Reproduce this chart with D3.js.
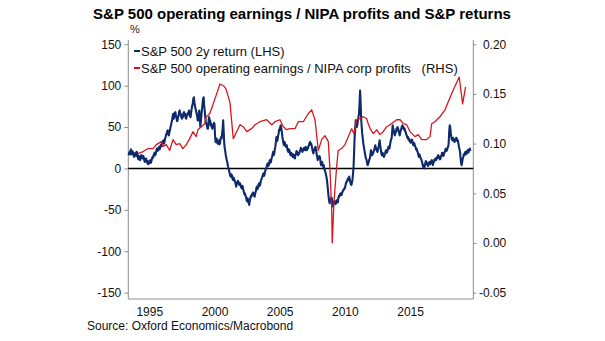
<!DOCTYPE html>
<html>
<head>
<meta charset="utf-8">
<script src="https://cdn.jsdelivr.net/npm/d3@7/dist/d3.min.js"></script>
<style>
  html, body { margin: 0; padding: 0; background: #fff; }
  svg { display: block; font-family: Arial, "Liberation Sans", sans-serif; }
</style>
</head>
<body>
<svg id="chart" width="605" height="341"></svg>
<script>
// S&P 500 2-year return (%), twice a month; each row: [year, first half-month index, values]
const returnRows = [
  [1993, 10, [16,19,20,17,23,20,17,21,19,16,14,18,17,19]],
  [1994, 0, [15,20,18,13,11,15,14,10,12,16,16,13,12,15,13,9,8,11,12,9,7,9,5,7]],
  [1995, 0, [6,9,10,7,9,12,14,13,16,18,19,16,18,21,24,21,22,25,26,23,25,28,29,27]],
  [1996, 0, [30,33,34,30,32,36,38,41,42,45,46,41,40,44,46,50,52,56,58,63,66,60,62,67]],
  [1997, 0, [68,64,62,57,58,62,64,69,70,65,66,62,60,64,62,67,68,64,66,61,60,65,64,67]],
  [1998, 0, [66,70,68,63,62,68,72,76,78,84,86,80,76,72,70,66,64,58,58,66,70,62,50,58]],
  [1999, 0, [64,72,78,84,86,76,70,62,56,54,52,48,48,56,62,58,58,52,54,50,48,51,52,55]],
  [2000, 0, [54,40,32,35,36,31,30,33,34,29,30,35,38,36,42,48,58,44,30,24,20,15,12,9]],
  [2001, 0, [6,2,0,-3,-6,-9,-10,-7,-8,-12,-14,-11,-12,-15,-16,-19,-22,-17,-18,-15,-16,-19,-20,-18]],
  [2002, 0, [-20,-23,-24,-21,-22,-26,-28,-31,-30,-33,-34,-38,-40,-36,-38,-42,-44,-39,-36,-33,-34,-31,-32,-29]],
  [2003, 0, [-30,-33,-34,-30,-28,-24,-22,-25,-24,-20,-18,-21,-20,-16,-14,-12,-10,-8,-6,-9,-8,-4,-2,0]],
  [2004, 0, [2,5,6,3,4,8,10,7,8,12,14,17,20,16,18,23,26,32,38,33,34,39,42,47]],
  [2005, 0, [46,50,52,48,44,38,34,30,28,32,30,27,26,28,24,21,20,23,22,18,16,19,18,15]],
  [2006, 0, [14,17,16,13,12,16,18,21,20,17,16,19,18,21,22,25,24,21,20,23,22,25,24,22]],
  [2007, 0, [26,23,22,25,24,27,28,31,32,29,30,27,24,20,18,22,22,25,26,22,18,14,10,13]],
  [2008, 0, [12,15,14,9,4,7,8,5,2,4,0,-2,-4,-7,-10,-14,-20,-27,-34,-39,-42,-40,-38,-35]],
  [2009, 0, [-36,-41,-46,-43,-42,-39,-40,-43,-42,-40,-38,-41,-36,-33,-34,-31,-30,-32,-32,-29,-28,-26,-26,-24]],
  [2010, 0, [-24,-21,-18,-16,-16,-13,-14,-11,-10,-13,-16,-19,-20,-17,-14,-6,2,20,38,48,58,54,50,53]],
  [2011, 0, [58,62,66,78,94,80,60,50,42,36,30,26,22,18,14,12,10,6,4,6,8,11,12,17]],
  [2012, 0, [22,19,16,19,18,21,22,25,28,25,24,21,20,23,26,30,34,28,24,19,16,19,18,15]],
  [2013, 0, [14,16,18,21,22,19,20,23,26,24,24,28,32,35,36,44,52,48,46,42,40,43,44,48]],
  [2014, 0, [46,50,48,45,42,40,44,46,48,51,52,49,50,47,48,45,44,41,40,37,38,35,36,33]],
  [2015, 0, [34,31,32,35,34,30,28,31,30,27,26,23,24,21,20,17,14,17,16,13,12,10,8,5]],
  [2016, 0, [2,4,0,3,6,9,8,5,6,3,4,7,8,5,6,9,10,7,4,7,8,11,10,12]],
  [2017, 0, [10,13,12,15,16,13,14,11,12,15,16,19,18,15,16,19,20,23,24,21,22,25,26,30]],
  [2018, 0, [44,52,50,42,38,35,34,37,36,33,32,35,34,37,36,33,34,30,26,23,20,12,6,4]],
  [2019, 0, [8,12,14,17,16,19,20,17,18,21,22,19,20,23,24,21]]
];

// S&P 500 operating earnings / NIPA corporate profits (ratio)
const ratioDates = [
  1994.13, 1994.52, 1994.90, 1995.28, 1995.54, 1995.92, 1996.05, 1996.30, 1996.56, 1996.82,
  1997.07, 1997.33, 1997.58, 1997.84, 1998.10, 1998.35, 1998.60, 1998.73, 1998.99, 1999.25,
  1999.37, 1999.63, 1999.88, 2000.14, 2000.42, 2000.70, 2000.88, 2001.06, 2001.19, 2001.44,
  2001.70, 2001.96, 2002.21, 2002.47, 2002.85, 2003.11, 2003.49, 2004.00, 2004.39, 2004.64,
  2005.02, 2005.28, 2005.54, 2005.79, 2006.17, 2006.43, 2006.81, 2007.19, 2007.45, 2007.71,
  2007.96, 2008.22, 2008.47, 2008.73, 2008.86, 2008.99, 2009.03, 2009.16, 2009.37, 2009.49,
  2009.75, 2010.01, 2010.26, 2010.52, 2010.70, 2010.90, 2011.16, 2011.41, 2011.67, 2011.79,
  2011.98, 2012.18, 2012.44, 2012.69, 2012.94, 2013.21, 2013.46, 2013.97, 2014.23, 2014.48,
  2014.74, 2015.00, 2015.38, 2015.63, 2015.89, 2016.27, 2016.53, 2016.66, 2016.91, 2017.29,
  2017.68, 2017.93, 2018.31, 2018.77, 2019.03, 2019.26
];
const ratioValues = [
  0.090, 0.092, 0.095, 0.095, 0.099, 0.102, 0.097, 0.099, 0.093, 0.104,
  0.099, 0.100, 0.095, 0.099, 0.105, 0.112, 0.107, 0.114, 0.117, 0.120,
  0.127, 0.130, 0.139, 0.149, 0.160, 0.158, 0.155, 0.147, 0.141, 0.105,
  0.112, 0.119, 0.117, 0.112, 0.115, 0.119, 0.122, 0.124, 0.119, 0.122,
  0.124, 0.117, 0.114, 0.115, 0.115, 0.122, 0.122, 0.130, 0.134, 0.124,
  0.093, 0.104, 0.108, 0.102, 0.073, 0.033, 0.000, 0.040, 0.077, 0.093,
  0.095, 0.099, 0.107, 0.115, 0.110, 0.124, 0.125, 0.127, 0.125, 0.120,
  0.114, 0.110, 0.114, 0.109, 0.112, 0.117, 0.119, 0.124, 0.124, 0.120,
  0.119, 0.112, 0.107, 0.109, 0.104, 0.104, 0.107, 0.120, 0.122, 0.127,
  0.134, 0.142, 0.154, 0.167, 0.140, 0.157
];

const yearTicks = [1995, 2000, 2005, 2010, 2015];
const leftTicks = [-150, -100, -50, 0, 50, 100, 150];
const rightTicks = [-0.05, 0.00, 0.05, 0.10, 0.15, 0.20];

const titleText = "S&P 500 operating earnings / NIPA profits and S&P returns";
const legendItems = [
  { label: "S&P 500 2y return (LHS)", color: "#0f2a6b" },
  { label: "S&P 500 operating earnings / NIPA corp profits   (RHS)", color: "#d9161e" }
];
const sourceText = "Source: Oxford Economics/Macrobond";

const returnSeries = returnRows.flatMap(([year, start, vals]) =>
  vals.map((v, i) => ({ t: year + (start + i) / 24, v })));
const ratioSeries = ratioDates.map((t, i) => ({ t, v: ratioValues[i] }));

const svg = d3.select("#chart");
const plot = { left: 128.3, right: 473.3, top: 40, bottom: 299 };

const x = d3.scaleLinear().domain([1993.39, 2019.85]).range([plot.left, plot.right]);
const yL = d3.scaleLinear().domain([-157.7, 155.1]).range([plot.bottom, plot.top]);
const yR = d3.scaleLinear().domain([0.075 - 157.7 / 1200, 0.075 + 155.1 / 1200]).range([plot.bottom, plot.top]);

const axisColor = "#8c8c8c";
const hyphen = s => s.replace("\u2212", "-");

// title
svg.append("text")
  .attr("x", 302).attr("y", 19)
  .attr("text-anchor", "middle")
  .attr("font-size", 15).attr("font-weight", "bold").attr("fill", "#000")
  .text(titleText);

svg.append("text")
  .attr("x", 130).attr("y", 33)
  .attr("font-size", 11).attr("fill", "#222")
  .text("%");

// left axis
const gL = svg.append("g").attr("transform", `translate(${plot.left},0)`)
  .call(d3.axisLeft(yL).tickValues(leftTicks).tickFormat(d => String(d))
    .tickSize(4).tickPadding(3).tickSizeOuter(0));
// right axis
const gR = svg.append("g").attr("transform", `translate(${plot.right},0)`)
  .call(d3.axisRight(yR).tickValues(rightTicks).tickFormat(d => hyphen(d3.format(".2f")(d)))
    .tickSize(3).tickPadding(6).tickSizeOuter(0));
gR.selectAll(".tick text").attr("text-anchor", "end").attr("dx", "24");
// bottom axis
const gB = svg.append("g").attr("transform", `translate(0,${plot.bottom})`)
  .call(d3.axisBottom(x).tickValues(yearTicks).tickFormat(d3.format("d"))
    .tickSize(0).tickPadding(8).tickSizeOuter(0));

[gL, gR, gB].forEach(g => {
  g.select(".domain").attr("stroke", axisColor).attr("stroke-width", 1);
  g.selectAll(".tick line").attr("stroke", axisColor);
  g.selectAll(".tick text").attr("font-size", 12).attr("fill", "#111")
    .attr("font-family", "Arial, 'Liberation Sans', sans-serif");
});
gL.select(".domain").attr("d", `M0,${plot.top}V${plot.bottom}`);
gR.select(".domain").attr("d", `M0,${plot.top}V${plot.bottom}`);
gB.select(".domain").attr("d", `M${plot.left},0H${plot.right}`);

// zero line
svg.append("line")
  .attr("x1", plot.left).attr("x2", plot.right)
  .attr("y1", yL(0)).attr("y2", yL(0))
  .attr("stroke", "#000").attr("stroke-width", 1.5);

// series
svg.append("path").datum(returnSeries)
  .attr("fill", "none").attr("stroke", legendItems[0].color)
  .attr("stroke-width", 2.1).attr("stroke-linejoin", "round")
  .attr("d", d3.line().x(d => x(d.t)).y(d => yL(d.v)));

svg.append("path").datum(ratioSeries)
  .attr("fill", "none").attr("stroke", legendItems[1].color)
  .attr("stroke-width", 1.3).attr("stroke-linejoin", "round")
  .attr("d", d3.line().x(d => x(d.t)).y(d => yR(d.v)));

// legend
const lg = svg.append("g");
legendItems.forEach((item, i) => {
  const yy = 51 + i * 17;
  lg.append("line").attr("x1", 134).attr("x2", 140).attr("y1", yy).attr("y2", yy)
    .attr("stroke", item.color).attr("stroke-width", 2);
  lg.append("text").attr("x", 141).attr("y", yy + 4.5)
    .attr("font-size", 13).attr("fill", "#111")
    .attr("xml:space", "preserve").style("white-space", "pre")
    .text(item.label);
});

// source
svg.append("text")
  .attr("x", 87).attr("y", 330)
  .attr("font-size", 12).attr("fill", "#111")
  .text(sourceText);
</script>
</body>
</html>
